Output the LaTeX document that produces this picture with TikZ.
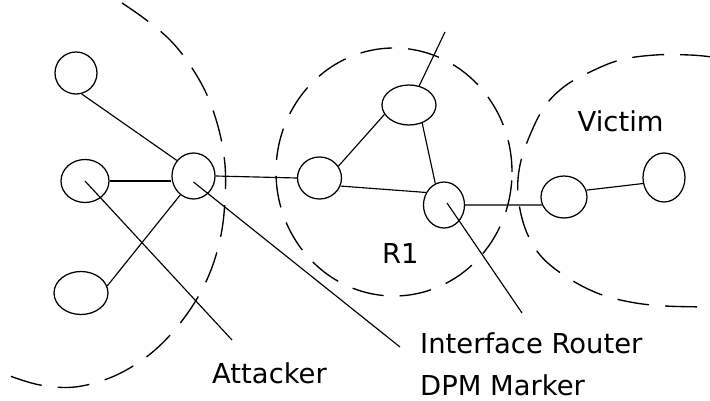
\documentclass[tikz,border=0pt]{standalone}
\usepackage{fontspec}
\setmainfont{DejaVu Sans}
\usetikzlibrary{shapes.geometric}
\begin{document}
\begin{tikzpicture}[x=1pt,y=-1pt,
  router/.style={draw,ellipse,line width=1.25pt,inner sep=0pt},
  link/.style={line width=1.15pt},
  zone/.style={line width=1.35pt,dash pattern=on 32pt off 16pt},
  lbl/.style={font=\fontsize{27.4}{42}\selectfont,inner sep=0pt,anchor=base west}]
\useasboundingbox (0,0) rectangle (710,401);
% dashed zones
\draw[zone] plot[smooth,tension=0.6] coordinates {(122,3) (145,19) (170,40) (190,65) (207,95) (219,130) (225,165) (225,200) (221,235) (211,270) (195,302) (172,333) (145,358) (112,377) (75,387) (40,385) (10,376)};
\draw[zone] (394,172) ellipse [x radius=118pt, y radius=124pt];
\draw[zone] plot[smooth,tension=0.6] coordinates {(712,57) (690,55) (655,55) (620,60) (590,72) (565,86) (545,106) (530,135) (520,165) (518,195) (525,228) (540,255) (565,276) (597,293) (630,302) (665,306) (712,307)};
% routers
\node[router,minimum width=42pt,minimum height=42pt] (A1) at (76,73) {};
\node[router,minimum width=48pt,minimum height=43pt] (A2) at (85,181) {};
\node[router,minimum width=54pt,minimum height=43pt] (A3) at (81,293) {};
\node[router,minimum width=43pt,minimum height=46pt] (B) at (193.5,176) {};
\node[router,minimum width=44pt,minimum height=42pt] (C) at (319.5,178) {};
\node[router,minimum width=54pt,minimum height=40pt] (D) at (409,105) {};
\node[router,minimum width=41pt,minimum height=46pt] (E) at (444,205) {};
\node[router,minimum width=46pt,minimum height=42pt] (F) at (564,197) {};
\node[router,minimum width=42pt,minimum height=49pt] (G) at (664,177.5) {};
% labels
\node[lbl] (att) at (212,383) {Attacker};
\node[lbl] (ifr) at (420,353) {Interface Router};
\node[lbl] (dpm) at (420,395) {DPM Marker};
\node[lbl] (r1) at (382,263) {R1};
\node[lbl] (vic) at (577.5,132) {Victim};
% free ends
\coordinate (attEnd) at (232,340);
\coordinate (ifrEnd1) at (400,347);
\coordinate (ifrEnd2) at (522,313);
\coordinate (upEnd) at (445,32);
% links
\draw[link] (A1.-75) -- (B.137);
\draw[link] (A2.east) -- (A2.east -| B.west);
\draw[link] (A3.15) -- (B.235);
\draw[link] (B.east) -- (C.west);
\draw[link] (C.32) -- (D.201);
\draw[link] (D.62) -- (upEnd);
\draw[link] (D.-54) -- (E.112);
\draw[link] (C.-21) -- (E.145);
\draw[link] (E.east) -- (F.200);
\draw[link] (F.17) -- (G.196);
\draw[link] (A2.center) -- (attEnd);
\draw[link] ([yshift=-6pt]B.center) -- (ifrEnd1);
\draw[link] ([xshift=3pt,yshift=2pt]E.center) -- (ifrEnd2);
\end{tikzpicture}
\end{document}
